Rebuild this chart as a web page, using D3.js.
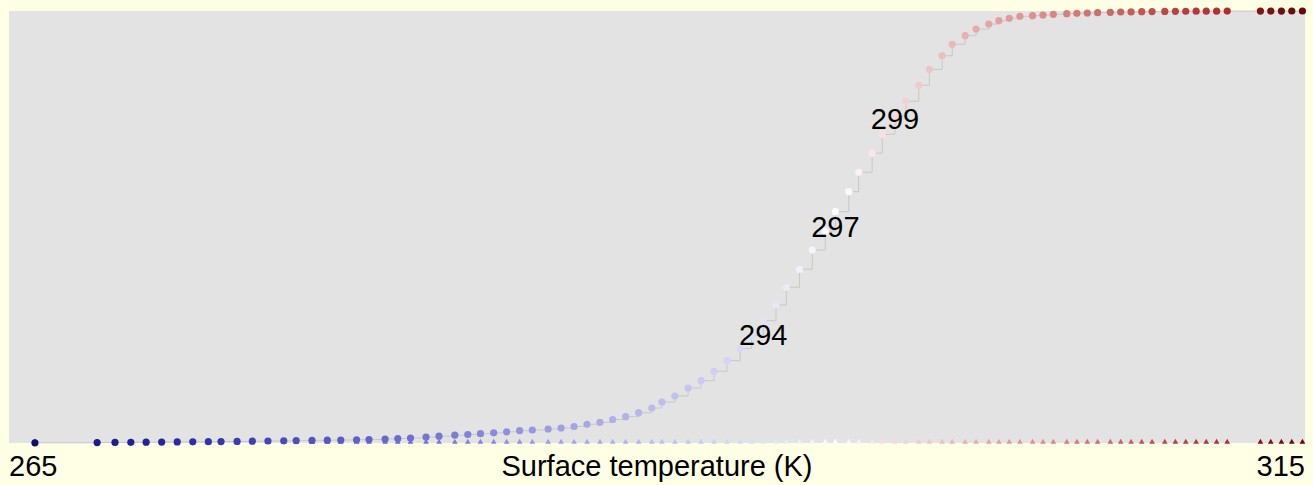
<!DOCTYPE html>
<html>
<head>
<meta charset="utf-8">
<script src="https://cdn.jsdelivr.net/npm/d3@7"></script>
<style>
  html, body { margin: 0; padding: 0; background: #ffffe6; }
  svg { display: block; }
  text { font-family: "Liberation Sans", Arial, sans-serif; }
</style>
</head>
<body>
<svg id="chart" width="1313" height="485"></svg>
<script>
// ---- data ----
const temperatures = [
  266.0, 268.4, 269.09, 269.7, 270.29, 270.89, 271.49, 272.09, 272.69, 273.18,
  273.8, 274.39, 274.99, 275.6, 276.08, 276.69, 277.28, 277.8, 278.41, 278.89,
  279.51, 280.0, 280.49, 281.09, 281.59, 282.2, 282.7, 283.19, 283.7, 284.2,
  284.7, 285.19, 285.8, 286.3, 286.8, 287.3, 287.8, 288.29, 288.79, 289.29,
  289.8, 290.19, 290.69, 291.2, 291.7, 292.2, 292.7, 293.21, 293.65, 294.1,
  294.59, 294.99, 295.5, 295.99, 296.49, 296.88, 297.4, 297.78, 298.3, 298.69,
  299.18, 299.6, 300.1, 300.51, 301.0, 301.39, 301.89, 302.31, 302.8, 303.19,
  303.59, 304.0, 304.49, 304.89, 305.29, 305.81, 306.2, 306.6, 307.0, 307.49,
  307.89, 308.29, 308.7, 309.1, 309.59, 310.0, 310.4, 310.8, 311.19, 311.59,
  312.0, 313.28, 313.68, 314.09, 314.49, 314.9
];
const cumulative = [
  0.0005, 0.0010, 0.0013, 0.0016, 0.0019, 0.0022, 0.0025, 0.0028, 0.0031, 0.0034,
  0.0037, 0.0042, 0.0046, 0.0050, 0.0055, 0.0060, 0.0065, 0.0070, 0.0075, 0.0080,
  0.0093, 0.0104, 0.0116, 0.0139, 0.0157, 0.0181, 0.0197, 0.0215, 0.0236, 0.0259,
  0.0285, 0.0301, 0.0324, 0.0347, 0.0382, 0.0433, 0.0479, 0.0544, 0.0609, 0.0701,
  0.0810, 0.0949, 0.1088, 0.1273, 0.1442, 0.1660, 0.1905, 0.2188, 0.2490, 0.2831,
  0.3194, 0.3604, 0.4021, 0.4468, 0.4907, 0.5354, 0.5817, 0.6266, 0.6708, 0.7146,
  0.7569, 0.7912, 0.8282, 0.8650, 0.8965, 0.9229, 0.9428, 0.9583, 0.9699, 0.9775,
  0.9831, 0.9877, 0.9891, 0.9907, 0.9924, 0.9938, 0.9947, 0.9954, 0.9961, 0.9970,
  0.9977, 0.9979, 0.9984, 0.9986, 0.9990, 0.9992, 0.9994, 0.9995, 0.9996, 0.9997,
  0.9998, 0.99985, 0.9999, 0.99993, 0.99997, 1.0
];
const quantileLevels = [0.25, 0.5, 0.75];
const xTickValues = [265, 315];
const xDomain = [265, 315];
const axisTitle = "Surface temperature (K)";

// colour ramp (temperature -> colour)
const colorStops = [265, 268, 272, 277, 281, 285, 289, 291, 293, 295, 297, 298.5, 300, 302, 304, 306.6, 308.3, 310, 312, 313.3, 315];
const colorValues = ["#0a0a64", "#191987", "#2d2da5", "#5555c8", "#7373d2", "#9696e1", "#b4b4eb", "#c3c3f0", "#d7d7f5", "#ebebf8", "#ffffff",
  "#f8e4e4", "#f0cdcd", "#e8afaf", "#e19696", "#d27373", "#c85a5a", "#b94141", "#af2d32", "#821414", "#640808"];

// ---- layout ----
const W = 1313, H = 485;
const plot = { left: 9, top: 11, right: 1305, bottom: 443 };

const svg = d3.select("#chart");
svg.append("rect").attr("width", W).attr("height", H).attr("fill", "#ffffe6");
svg.append("rect")
  .attr("x", plot.left).attr("y", plot.top)
  .attr("width", plot.right - plot.left).attr("height", plot.bottom - plot.top)
  .attr("fill", "#e3e3e3");

const x = d3.scaleLinear().domain(xDomain).range([plot.left, plot.right]);
const y = d3.scaleLinear().domain([0, 1]).range([plot.bottom, plot.top]);
const color = d3.scaleLinear().domain(colorStops).range(colorValues).clamp(true);

const data = temperatures.map((t, i) => ({ t, f: cumulative[i] }));

// step line
const line = d3.line().x(d => x(d.t)).y(d => y(d.f)).curve(d3.curveStepAfter);
svg.append("path").datum(data)
  .attr("d", line)
  .attr("fill", "none")
  .attr("stroke", "#c8c8c8")
  .attr("stroke-width", 1);

// rug triangles
const tri = d3.symbol().type(d3.symbolTriangle).size(14);
svg.append("g").selectAll("path").data(data).join("path")
  .attr("d", tri)
  .attr("transform", d => `translate(${x(d.t)},${y(0) - 1})`)
  .attr("fill", d => color(d.t));

// dots
svg.append("g").selectAll("circle").data(data).join("circle")
  .attr("cx", d => x(d.t))
  .attr("cy", d => y(d.f))
  .attr("r", 3.6)
  .attr("fill", d => color(d.t));

// quantile labels
const qLabels = quantileLevels.map(q => {
  const d = data.find(p => p.f >= q);
  return { q, t: d.t };
});
svg.append("g").selectAll("text").data(qLabels).join("text")
  .attr("x", d => x(d.t))
  .attr("y", d => y(d.q))
  .attr("dy", "0.35em")
  .attr("text-anchor", "middle")
  .attr("font-size", 29)
  .attr("fill", "#000")
  .text(d => Math.round(d.t));

// x axis tick labels (ends) and title
const axisG = svg.append("g");
axisG.selectAll("text.tick").data(xTickValues).join("text")
  .attr("class", "tick")
  .attr("x", d => x(d))
  .attr("y", 476)
  .attr("text-anchor", (d, i) => i === 0 ? "start" : "end")
  .attr("font-size", 29)
  .attr("fill", "#000")
  .text(d => d);
axisG.append("text")
  .attr("x", (plot.left + plot.right) / 2)
  .attr("y", 476)
  .attr("text-anchor", "middle")
  .attr("font-size", 29)
  .attr("fill", "#000")
  .text(axisTitle);
</script>
</body>
</html>
